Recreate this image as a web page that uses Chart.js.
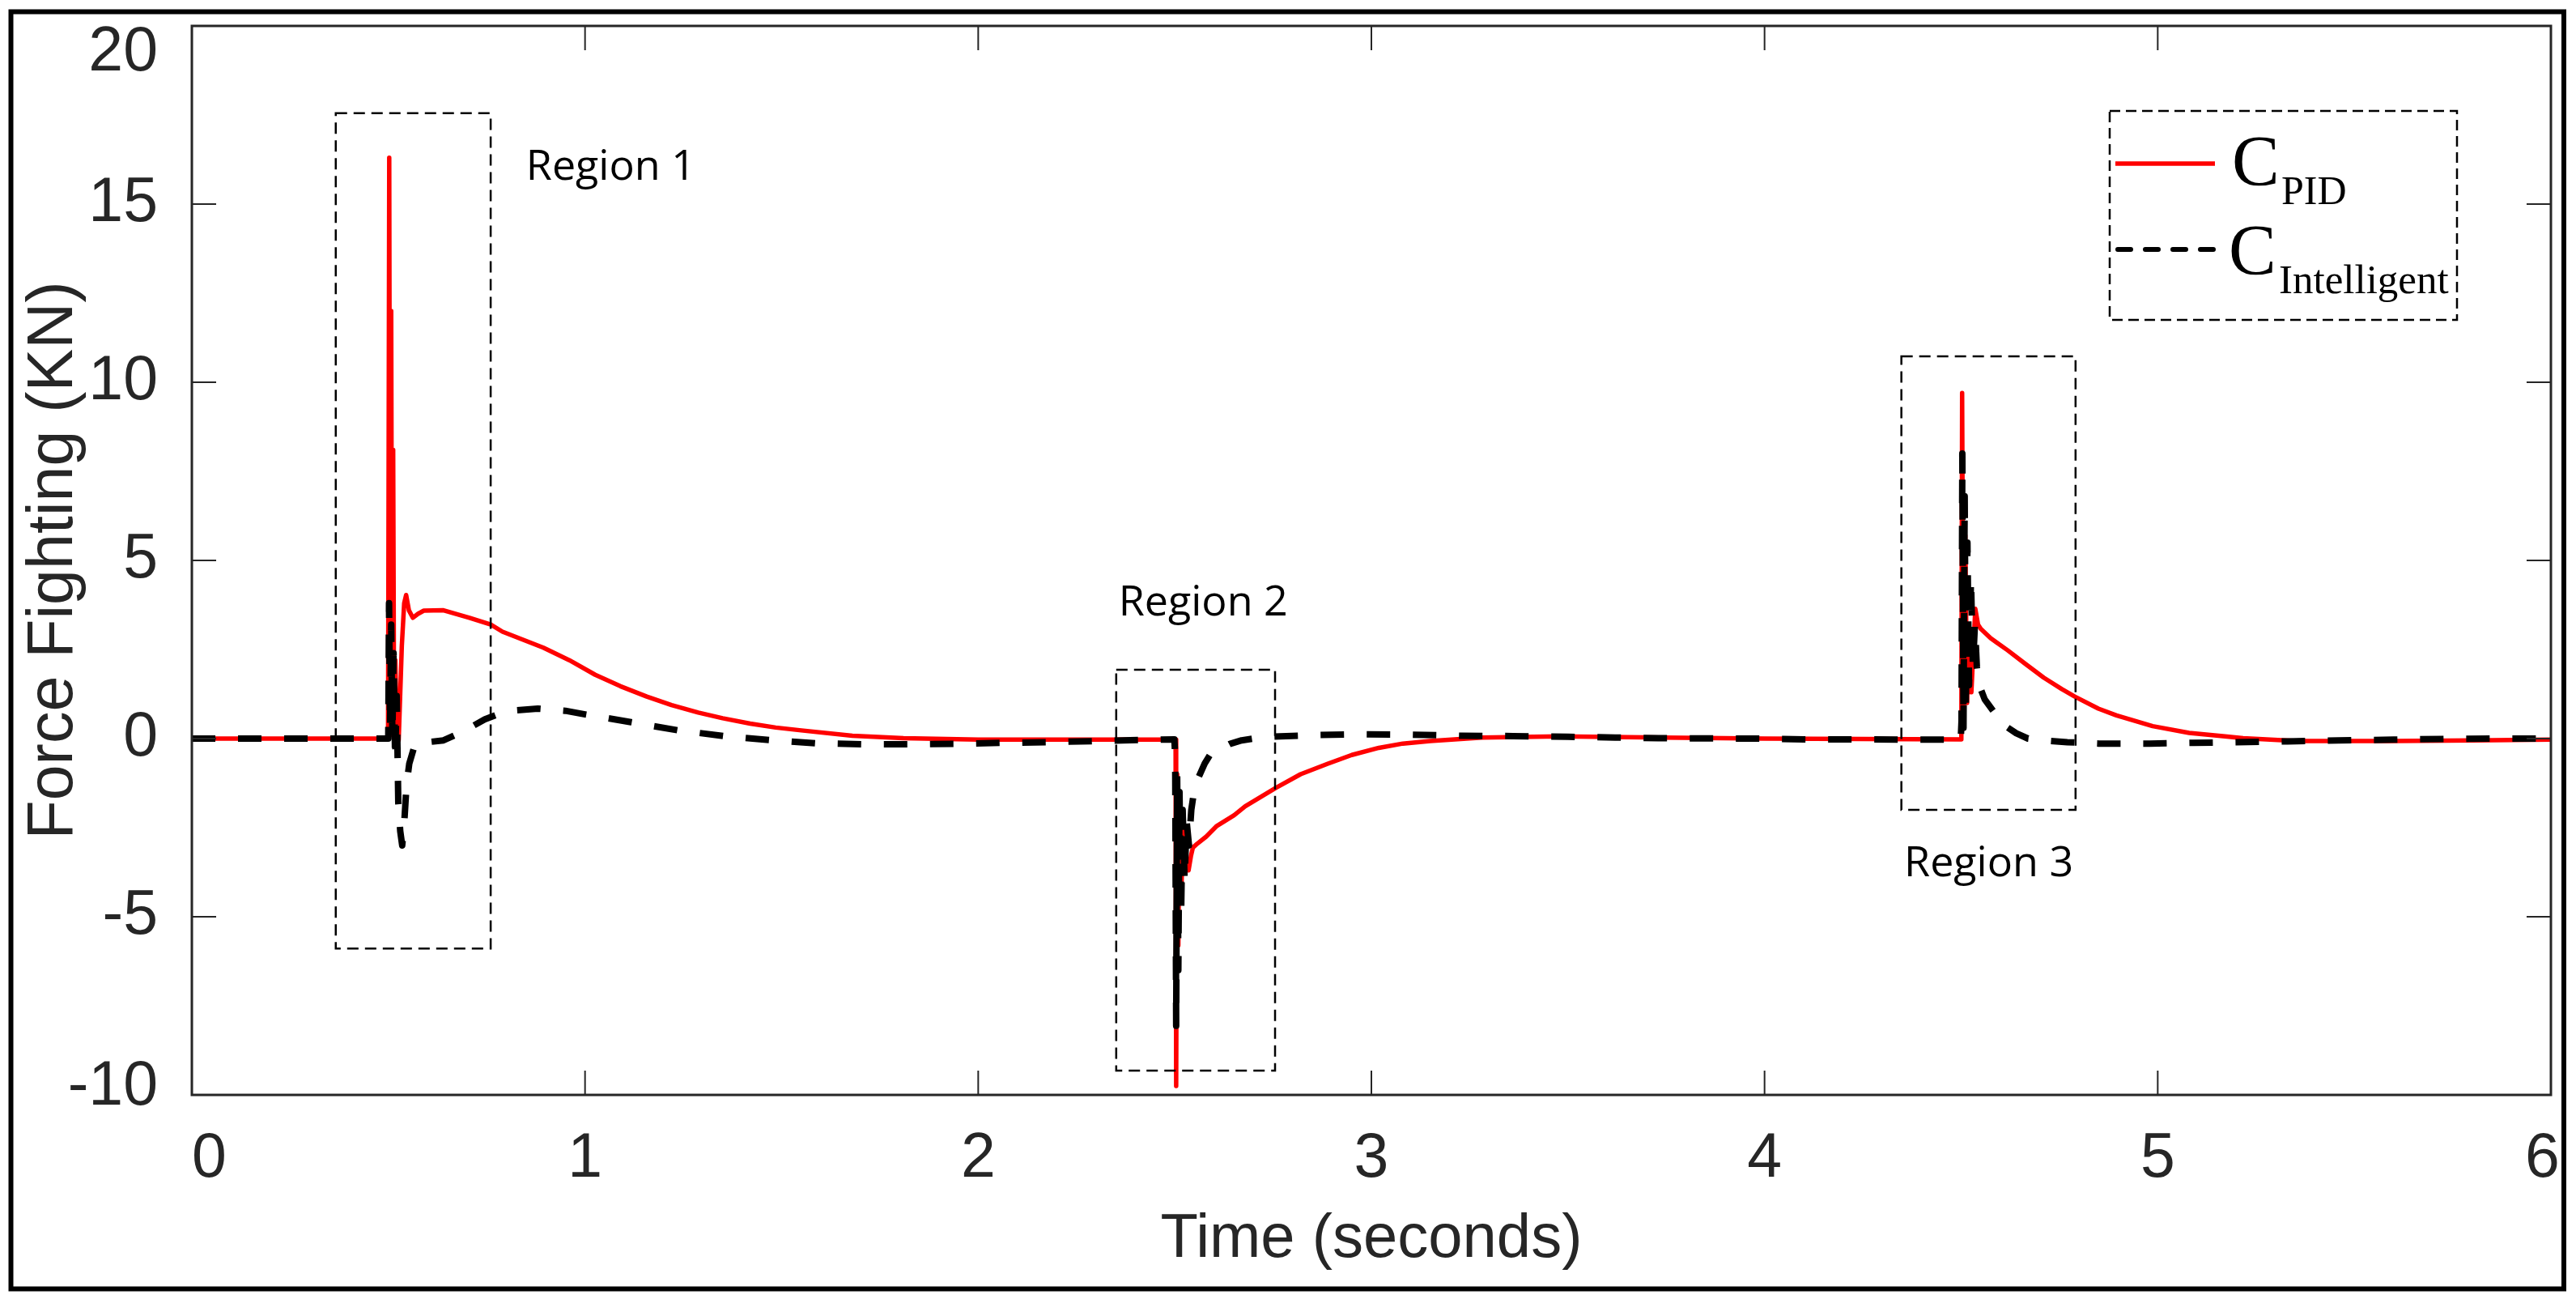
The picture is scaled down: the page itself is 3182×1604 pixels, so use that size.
<!DOCTYPE html>
<html>
<head>
<meta charset="utf-8">
<title>Force Fighting</title>
<script src="https://cdn.jsdelivr.net/npm/chart.js@4.4.1/dist/chart.umd.min.js"></script>
<style>
  html, body { margin: 0; padding: 0; background: #fff; }
  canvas { display: block; }
</style>
</head>
<body>
<canvas id="forceChart" width="3182" height="1604"></canvas>
<script>
// C_PID force fighting (time in s, force in kN)
const pidTime = [
  0, 0.499, 0.5000, 0.5020, 0.5045, 0.5070, 0.5095, 0.5120, 0.5145, 0.5175, 0.5210, 0.5260,
  0.5340, 0.5400, 0.5450, 0.5520, 0.5620, 0.5750, 0.5900, 0.6400, 0.7060, 0.7600, 0.7900,
  0.8940, 0.9600, 1.0260, 1.0900, 1.1570, 1.2200, 1.2880, 1.3500, 1.4200, 1.4850, 1.5500,
  1.6800, 1.8100, 2.0000, 2.5020, 2.5035, 2.5060, 2.5090, 2.5120, 2.5160, 2.5210, 2.5280,
  2.5350, 2.5410, 2.5460, 2.5570, 2.5800, 2.6070, 2.6510, 2.6790, 2.7560, 2.8200, 2.8880,
  2.9500, 3.0190, 3.0800, 3.1500, 3.2810, 3.4780, 3.7400, 4.0000, 4.4990, 4.5005, 4.5025,
  4.5060, 4.5105, 4.5150, 4.5200, 4.5260, 4.5360, 4.5430, 4.5500, 4.5750, 4.5900, 4.6180,
  4.6640, 4.7100, 4.7560, 4.7890, 4.8490, 4.8950, 4.9870, 5.0800, 5.1710, 5.2170, 5.3550,
  5.6000, 5.8000, 6.0000
];
const pidForce = [
  0, 0, 0, 16.3, 0.6, 12.0, 0.1, 8.1, -0.05, 2.2, 0.3, -0.05,
  2.6, 3.8, 4.03, 3.6, 3.39, 3.5, 3.59, 3.6, 3.39, 3.2, 3.0,
  2.55, 2.2, 1.79, 1.47, 1.18, 0.94, 0.73, 0.57, 0.42, 0.31, 0.23,
  0.08, 0.01, -0.03, -0.03, -9.75, -1.0, -5.8, -2.0, -4.6, -2.5, -3.3,
  -3.7, -3.3, -3.06, -2.95, -2.75, -2.45, -2.15, -1.9, -1.39, -1.0, -0.71,
  -0.46, -0.26, -0.14, -0.07, 0.03, 0.06, 0.03, 0.0, -0.02, 0, 9.7,
  0.5, 5.7, 1.0, 3.2, 1.3, 3.64, 3.2, 3.08, 2.82, 2.7, 2.48,
  2.09, 1.71, 1.39, 1.18, 0.84, 0.65, 0.35, 0.16, 0.06, 0.01, -0.07,
  -0.07, -0.05, -0.03
];

// C_Intelligent force fighting
const intTime = [
  0, 0.4995, 0.5015, 0.5040, 0.5070, 0.5100, 0.5130, 0.5170, 0.5210, 0.5250, 0.5300, 0.5350,
  0.5400, 0.5460, 0.5530, 0.5650, 0.5780, 0.6000, 0.6400, 0.6900, 0.7450, 0.8000, 0.8800,
  0.9500, 1.0000, 1.1170, 1.2350, 1.3530, 1.4680, 1.5860, 1.7040, 1.8220, 1.9400, 2.0600,
  2.1800, 2.3000, 2.4100, 2.4990, 2.5010, 2.5035, 2.5060, 2.5090, 2.5120, 2.5160, 2.5200,
  2.5250, 2.5300, 2.5360, 2.5420, 2.5500, 2.5600, 2.5760, 2.5900, 2.6140, 2.6400, 2.6700,
  2.7300, 2.8600, 2.9800, 3.1000, 3.2300, 3.3600, 3.5000, 3.6200, 3.7300, 3.9700, 4.1000,
  4.4990, 4.5010, 4.5030, 4.5060, 4.5090, 4.5120, 4.5160, 4.5200, 4.5250, 4.5300, 4.5350,
  4.5400, 4.5460, 4.5600, 4.5800, 4.6100, 4.6400, 4.6700, 4.7200, 4.7700, 4.8500, 4.9800,
  5.0900, 5.2000, 5.3300, 5.4600, 5.6000, 5.7300, 5.8600, 6.0000
];
const intForce = [
  0, 0, 3.8, 0.3, 3.2, 0.0, 2.4, -0.6, 1.2, -1.8, -2.6, -3.0,
  -2.4, -1.3, -0.7, -0.25, -0.07, -0.1, -0.05, 0.2, 0.54, 0.77, 0.84,
  0.78, 0.68, 0.46, 0.235, 0.07, -0.04, -0.13, -0.16, -0.16, -0.15, -0.12,
  -0.10, -0.07, -0.04, -0.02, -0.5, -8.06, -1.0, -6.5, -1.5, -5.0, -2.0,
  -4.0, -2.3, -3.0, -2.0, -1.4, -1.1, -0.7, -0.45, -0.3, -0.15, -0.05,
  0.05, 0.1, 0.12, 0.11, 0.08, 0.07, 0.05, 0.03, 0.01, 0.0, -0.02,
  -0.03, 0.5, 8.0, 0.3, 6.8, 0.8, 5.5, 1.5, 4.5, 2.0, 3.2,
  2.0, 1.5, 1.1, 0.8, 0.37, 0.15, 0.0, -0.06, -0.1, -0.14, -0.14,
  -0.12, -0.10, -0.08, -0.05, -0.03, -0.01, 0.0, 0.0
];

const xTicks = [0, 1, 2, 3, 4, 5, 6];
const yTicks = [-10, -5, 0, 5, 10, 15, 20];

// dashed boxes drawn over the plot, in data units
const regions = [
  { label: 'Region 1', x0: 0.366, x1: 0.760, y0: -5.89, y1: 17.55, labelX: 0.850, labelY: 15.68 },
  { label: 'Region 2', x0: 2.351, x1: 2.755, y0: -9.32, y1: 1.93, labelX: 2.357, labelY: 3.45 },
  { label: 'Region 3', x0: 4.348, x1: 4.791, y0: -2.0, y1: 10.73, labelX: 4.355, labelY: -3.86 }
];

const sansFont = "'Liberation Sans', Arial, Helvetica, sans-serif";
const serifFont = "'Liberation Serif', 'Times New Roman', serif";
const axisColor = '#262626';

function toPoints(xs, ys) {
  return xs.map((x, i) => ({ x: x, y: ys[i] }));
}

// end labels sit a little inside the box in the original figure
function xLabel(v) {
  if (v === 0) return '\u00a0\u00a00';
  if (v === 6) return '6\u00a0';
  return String(v);
}
function yLabel(v) {
  if (v === 20) return ['', '20'];
  if (v === -10) return ['-10', ''];
  return String(v);
}
function yTickFont(ctx) {
  const v = ctx.tick ? ctx.tick.value : null;
  let lh = 1.2;
  if (v === 20) lh = 0.88;
  if (v === -10) lh = 0.25;
  return { family: sansFont, size: 77, lineHeight: lh };
}

const framePlugin = {
  id: 'frame',
  beforeDraw(chart) {
    const ctx = chart.ctx;
    ctx.save();
    ctx.fillStyle = '#fff';
    ctx.fillRect(0, 0, chart.width, chart.height);
    ctx.restore();
  },
  afterDatasetsDraw(chart) {
    const { ctx, chartArea: a } = chart;
    const x = chart.scales.x, y = chart.scales.y;
    ctx.save();

    // region boxes + labels
    ctx.strokeStyle = '#000';
    ctx.lineWidth = 2.5;
    ctx.setLineDash([14, 8]);
    regions.forEach(r => {
      const left = x.getPixelForValue(r.x0), right = x.getPixelForValue(r.x1);
      const top = y.getPixelForValue(r.y1), bottom = y.getPixelForValue(r.y0);
      ctx.strokeRect(left, top, right - left, bottom - top);
    });
    ctx.setLineDash([]);
    ctx.fillStyle = '#000';
    ctx.font = "52px 'Open Sans', sans-serif";
    ctx.textBaseline = 'alphabetic';
    ctx.textAlign = 'left';
    regions.forEach(r => {
      ctx.fillText(r.label, x.getPixelForValue(r.labelX), y.getPixelForValue(r.labelY));
    });

    // axes box with inward ticks
    ctx.strokeStyle = axisColor;
    ctx.lineWidth = 3;
    ctx.strokeRect(a.left, a.top, a.right - a.left, a.bottom - a.top);
    ctx.lineWidth = 2;
    ctx.beginPath();
    x.ticks.forEach(t => {
      const px = x.getPixelForValue(t.value);
      ctx.moveTo(px, a.bottom); ctx.lineTo(px, a.bottom - 30);
      ctx.moveTo(px, a.top); ctx.lineTo(px, a.top + 30);
    });
    y.ticks.forEach(t => {
      const py = y.getPixelForValue(t.value);
      ctx.moveTo(a.left, py); ctx.lineTo(a.left + 30, py);
      ctx.moveTo(a.right, py); ctx.lineTo(a.right - 30, py);
    });
    ctx.stroke();

    // legend
    const lx = a.right - 545, ly = a.top + 105;
    const pid = chart.data.datasets[1], intel = chart.data.datasets[0];
    ctx.strokeStyle = '#000';
    ctx.lineWidth = 2.5;
    ctx.setLineDash([13, 7]);
    ctx.strokeRect(lx, ly, 429, 258);

    ctx.setLineDash([]);
    ctx.strokeStyle = pid.borderColor;
    ctx.lineWidth = 5.5;
    ctx.beginPath();
    ctx.moveTo(lx + 7, ly + 65); ctx.lineTo(lx + 130, ly + 65);
    ctx.stroke();

    ctx.strokeStyle = intel.borderColor;
    ctx.lineWidth = 6;
    ctx.lineCap = 'round';
    ctx.setLineDash([16, 18]);
    ctx.beginPath();
    ctx.moveTo(lx + 10, ly + 171); ctx.lineTo(lx + 128, ly + 171);
    ctx.stroke();
    ctx.setLineDash([]);
    ctx.lineCap = 'butt';

    ctx.fillStyle = '#000';
    ctx.font = '88px ' + serifFont;
    ctx.fillText('C', lx + 151, ly + 91);
    ctx.fillText('C', lx + 147, ly + 201);
    ctx.font = '50px ' + serifFont;
    ctx.fillText('PID', lx + 212, ly + 115);
    ctx.font = '51px ' + serifFont;
    ctx.fillText('Intelligent', lx + 209, ly + 225);

    ctx.restore();
  },
  afterDraw(chart) {
    const ctx = chart.ctx;
    ctx.save();
    ctx.strokeStyle = '#000';
    ctx.lineWidth = 6;
    ctx.strokeRect(13.5, 14.5, 3153.5, 1577);
    ctx.restore();
  }
};

window.onload = () => {
  const canvas = document.querySelector('#forceChart');
  new Chart(canvas, {
    type: 'line',
    data: {
      datasets: [
        {
          label: 'C_Intelligent',
          data: toPoints(intTime, intForce),
          borderColor: '#000000',
          borderWidth: 8,
          borderDash: [29, 28],
          order: 0
        },
        {
          label: 'C_PID',
          data: toPoints(pidTime, pidForce),
          borderColor: '#ff0000',
          borderWidth: 5.5,
          order: 1
        }
      ]
    },
    options: {
      responsive: false,
      animation: false,
      devicePixelRatio: 1,
      layout: { padding: { top: 32, right: 31, bottom: 0, left: 0 } },
      elements: {
        point: { radius: 0 },
        line: { tension: 0, borderCapStyle: 'butt', borderJoinStyle: 'round', fill: false }
      },
      plugins: { legend: { display: false }, tooltip: { enabled: false } },
      scales: {
        x: {
          type: 'linear',
          min: 0,
          max: 6,
          afterBuildTicks: s => { s.ticks = xTicks.map(v => ({ value: v })); },
          afterFit: s => { s.height = 252; s.paddingLeft = 0; s.paddingRight = 0; },
          grid: { display: false, drawTicks: false, tickLength: 0 },
          border: { display: false },
          ticks: {
            padding: 34, color: axisColor, maxRotation: 0, autoSkip: false,
            callback: v => xLabel(v),
            font: { family: sansFont, size: 77 }
          },
          title: {
            display: true, text: 'Time (seconds)', color: axisColor,
            font: { family: sansFont, size: 76 },
            padding: { top: 0, bottom: 27 }
          }
        },
        y: {
          type: 'linear',
          min: -10,
          max: 20,
          afterBuildTicks: s => { s.ticks = yTicks.map(v => ({ value: v })); },
          afterFit: s => { s.width = 237; s.paddingTop = 0; s.paddingBottom = 0; },
          grid: { display: false, drawTicks: false, tickLength: 0 },
          border: { display: false },
          ticks: {
            padding: 42, color: axisColor, autoSkip: false,
            callback: v => yLabel(v),
            font: yTickFont
          },
          title: {
            display: true, text: 'Force Fighting (KN)', color: axisColor,
            font: { family: sansFont, size: 79 },
            padding: { top: 20, bottom: 0 }
          }
        }
      }
    },
    plugins: [framePlugin]
  });
};
</script>
</body>
</html>
